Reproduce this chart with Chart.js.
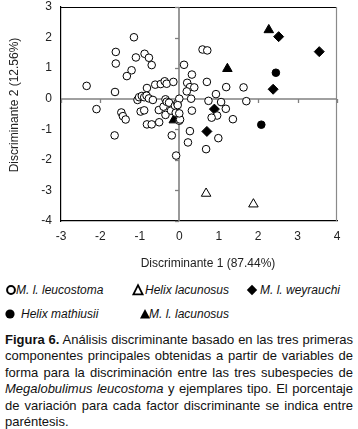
<!DOCTYPE html>
<html>
<head>
<meta charset="utf-8">
<script src="https://cdn.jsdelivr.net/npm/chart.js@4.4.0/dist/chart.umd.min.js"></script>
<style>
html,body{margin:0;padding:0;background:#fff;width:358px;height:429px;overflow:hidden;font-family:"Liberation Sans",Arial,sans-serif;color:#111;}
#wrap{position:absolute;left:0;top:0;width:358px;height:275px;}
.leg{position:absolute;font-style:italic;font-size:12px;line-height:14px;white-space:nowrap;color:#111;}
.mk{position:absolute;overflow:visible;}
#cap{position:absolute;left:5px;top:332px;width:348px;font-size:13px;color:#111;}
#cap div{height:16.4px;line-height:16.4px;text-align:justify;text-align-last:justify;}
#cap div.last{text-align-last:left;}
</style>
</head>
<body>
<div id="wrap"><canvas id="c" width="358" height="275"></canvas></div>

<svg class="mk" style="left:5px;top:284px" width="12" height="12"><circle cx="6" cy="6" r="3.9" fill="#fff" stroke="#000" stroke-width="2"/></svg>
<div class="leg" style="left:16px;top:283px">M. l. leucostoma</div>
<svg class="mk" style="left:132px;top:284px" width="12" height="12"><polygon points="6,1.2 10.6,10.4 1.4,10.4" fill="#fff" stroke="#000" stroke-width="1.8"/></svg>
<div class="leg" style="left:145px;top:283px">Helix lacunosus</div>
<svg class="mk" style="left:246px;top:284px" width="12" height="12"><polygon points="6,0.8 11.2,6 6,11.2 0.8,6" fill="#000"/></svg>
<div class="leg" style="left:260px;top:283px">M. l. weyrauchi</div>

<svg class="mk" style="left:4px;top:308px" width="12" height="12"><circle cx="6" cy="6" r="4.6" fill="#000"/></svg>
<div class="leg" style="left:21px;top:307px">Helix mathiusii</div>
<svg class="mk" style="left:139px;top:308px" width="12" height="12"><polygon points="6,1 11,10.6 1,10.6" fill="#000"/></svg>
<div class="leg" style="left:149px;top:307px">M. l. lacunosus</div>

<div id="cap">
<div><b>Figura 6.</b> Análisis discriminante basado en las tres primeras</div>
<div>componentes principales obtenidas a partir de variables de</div>
<div>forma para la discriminación entre las tres subespecies de</div>
<div><i>Megalobulimus leucostoma</i> y ejemplares tipo. El porcentaje</div>
<div>de variación para cada factor discriminante se indica entre</div>
<div class="last">paréntesis.</div>
</div>

<script>
// ---- data ----
const xTicks = [-3, -2, -1, 0, 1, 2, 3, 4];
const yTicks = [-4, -3, -2, -1, 0, 1, 2, 3];
const xTitle = "Discriminante 1 (87.44%)";
const yTitle = "Discriminante 2 (12.56%)";

const leucostomaX = [-2.35,-2.10,-1.63,-1.64,-1.61,-1.61,-1.15,-1.10,-0.88,-0.77,-0.70,-1.21,-1.33,-1.47,-1.43,-1.36,
  -0.82,-0.61,-0.47,-0.37,-0.32,-0.15,-1.06,-1.02,-0.95,-0.89,-0.83,-0.77,-0.67,-0.98,-0.89,-0.82,-0.70,-0.51,
  -0.52,-0.40,-0.35,-0.32,-0.26,-0.35,-0.21,-0.11,-0.05,0.00,-0.09,0.00,-0.19,-0.08,
  0.59,0.71,0.12,0.32,0.20,0.27,0.38,0.19,0.70,1.19,1.63,0.93,1.70,0.74,0.30,1.06,0.32,1.18,0.96,0.82,1.36,
  0.02,0.00,-0.04,0.27,0.99,0.22,0.68];
const leucostomaY = [0.42,-0.34,0.22,-1.20,1.53,1.15,2.01,1.35,1.47,1.34,1.10,0.93,0.74,-0.45,-0.57,-0.68,
  0.35,0.46,0.48,0.57,0.49,0.55,-0.04,0.05,0.09,0.05,0.10,0.01,-0.04,-0.42,-0.38,-0.84,-0.84,-0.77,
  -0.37,-0.26,-0.02,-0.10,-0.13,-0.53,-0.39,-0.23,-0.15,0.00,-0.46,-0.72,-1.20,-1.86,
  1.61,1.58,1.11,0.79,0.52,0.38,0.37,0.24,0.55,0.38,0.37,0.15,-0.08,-0.07,0.00,-0.11,-0.39,-0.33,-0.55,-0.62,-0.67,
  -0.68,-0.48,-0.21,-1.06,-1.29,-1.43,-1.65];

const helixLacunosusX = [0.68, 1.88];
const helixLacunosusY = [-3.10, -3.45];

const weyrauchiX = [2.52, 3.55, 2.38, 0.89, 0.70];
const weyrauchiY = [2.03, 1.54, 0.31, -0.34, -1.07];

const mathiusiiX = [2.45, 2.08];
const mathiusiiY = [0.85, -0.85];

const lacunosusX = [2.27, 1.22, -0.14];
const lacunosusY = [2.25, 0.98, -0.70];

// ---- build ----
const pts = (xs, ys) => xs.map((x, i) => ({x: x, y: ys[i]}));
const FONT = '"Liberation Sans", Arial, sans-serif';

const framePlugin = {
  id: 'frame',
  beforeDatasetsDraw(chart) {
    const {ctx, chartArea: a, scales: {x, y}} = chart;
    const x0 = Math.round(x.getPixelForValue(0));
    const y0 = Math.round(y.getPixelForValue(0));
    ctx.save();
    ctx.strokeStyle = '#000'; ctx.lineWidth = 1.2;
    ctx.beginPath(); ctx.moveTo(a.left, a.top + 0.5); ctx.lineTo(a.right, a.top + 0.5); ctx.stroke();
    ctx.strokeStyle = '#8a8a8a'; ctx.lineWidth = 1.2;
    ctx.beginPath(); ctx.moveTo(a.right - 0.5, a.top); ctx.lineTo(a.right - 0.5, a.bottom); ctx.stroke();
    ctx.strokeStyle = '#808080'; ctx.lineWidth = 1.6;
    ctx.beginPath(); ctx.moveTo(a.left, y0); ctx.lineTo(a.right, y0); ctx.stroke();
    ctx.beginPath(); ctx.moveTo(x0, a.top); ctx.lineTo(x0, a.bottom); ctx.stroke();
    ctx.lineWidth = 1.3;
    xTicks.forEach(v => {
      const px = Math.round(x.getPixelForValue(v)) + 0.5;
      ctx.beginPath(); ctx.moveTo(px, y0); ctx.lineTo(px, y0 + 4); ctx.stroke();
    });
    yTicks.forEach(v => {
      const py = Math.round(y.getPixelForValue(v)) + 0.5;
      ctx.beginPath(); ctx.moveTo(x0, py); ctx.lineTo(x0 - 4, py); ctx.stroke();
    });
    ctx.restore();
  },
  afterDraw(chart) {
    const {ctx} = chart;
    ctx.save();
    ctx.fillStyle = '#222';
    ctx.font = '12px ' + FONT;
    ctx.textAlign = 'center';
    ctx.textBaseline = 'middle';
    ctx.fillText(xTitle, 208, 264);
    ctx.translate(15, 105);
    ctx.rotate(-Math.PI / 2);
    ctx.fillText(yTitle, 0, 0);
    ctx.restore();
  }
};

new Chart(document.getElementById('c'), {
  type: 'scatter',
  data: {
    datasets: [
      {label: 'M. l. leucostoma', data: pts(leucostomaX, leucostomaY), pointStyle: 'circle', pointRadius: 3.8,
       backgroundColor: '#fff', borderColor: '#000', borderWidth: 1},
      {label: 'Helix lacunosus', data: pts(helixLacunosusX, helixLacunosusY), pointStyle: 'triangle', pointRadius: 5.5,
       backgroundColor: '#fff', borderColor: '#000', borderWidth: 1},
      {label: 'M. l. weyrauchi', data: pts(weyrauchiX, weyrauchiY), pointStyle: 'rectRot', pointRadius: 5,
       backgroundColor: '#000', borderColor: '#000', borderWidth: 1},
      {label: 'Helix mathiusii', data: pts(mathiusiiX, mathiusiiY), pointStyle: 'circle', pointRadius: 3.8,
       backgroundColor: '#000', borderColor: '#000', borderWidth: 1},
      {label: 'M. l. lacunosus', data: pts(lacunosusX, lacunosusY), pointStyle: 'triangle', pointRadius: 5.5,
       backgroundColor: '#000', borderColor: '#000', borderWidth: 1}
    ]
  },
  options: {
    responsive: false,
    animation: false,
    devicePixelRatio: 1,
    events: [],
    layout: {padding: {left: 0, top: 0, right: 21, bottom: 0}},
    plugins: {legend: {display: false}, tooltip: {enabled: false}},
    scales: {
      x: {
        type: 'linear', min: -3, max: 4,
        afterBuildTicks: s => { s.ticks = xTicks.map(v => ({value: v})); },
        afterFit: s => { s.height = 54; },
        ticks: {padding: 8, color: '#222', font: {family: FONT, size: 12}, callback: v => String(v), maxRotation: 0, autoSkip: false},
        grid: {display: false, drawTicks: false},
        border: {display: true, color: '#000', width: 1.2}
      },
      y: {
        type: 'linear', min: -4, max: 3,
        afterBuildTicks: s => { s.ticks = yTicks.map(v => ({value: v})); },
        afterFit: s => { s.width = 61; s.paddingTop = 7; s.paddingBottom = 0; },
        ticks: {padding: 9, color: '#222', font: {family: FONT, size: 12}, callback: v => String(v), autoSkip: false},
        grid: {display: false, drawTicks: false},
        border: {display: true, color: '#000', width: 1.2}
      }
    }
  },
  plugins: [framePlugin]
});
</script>
</body>
</html>
